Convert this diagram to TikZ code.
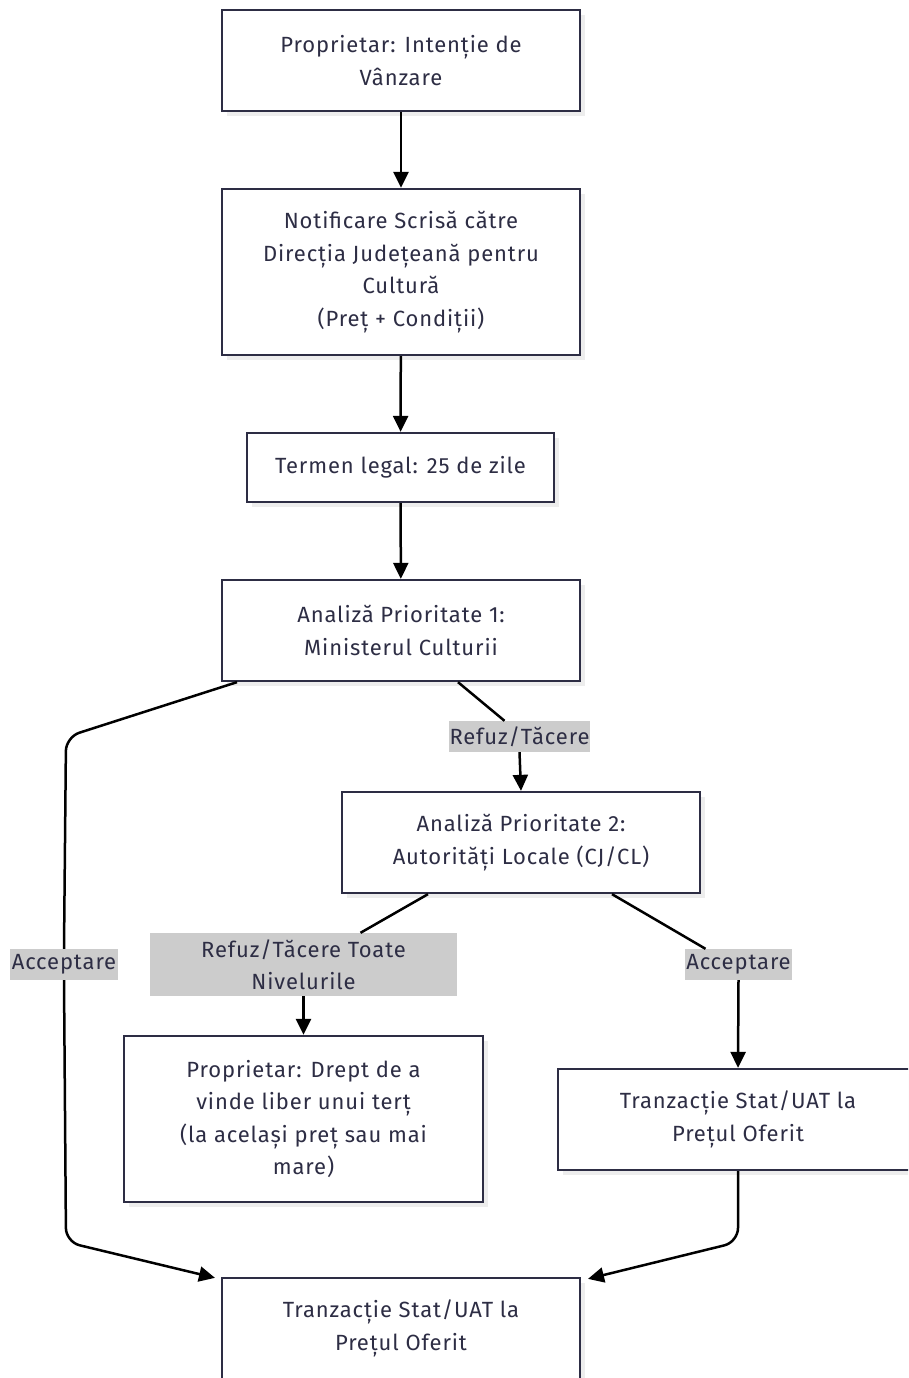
\documentclass[tikz,border=0pt]{standalone}
\usepackage{fontspec}
\setmainfont{Fira Sans}[LetterSpace=4]
\usetikzlibrary{arrows.meta,shadows}
\definecolor{ink}{HTML}{2D2D44}
\definecolor{labelbg}{HTML}{CCCCCC}
\definecolor{shade}{HTML}{EDEDED}
\begin{document}
\begin{tikzpicture}[x=1pt,y=-1pt,
  every node/.style={font=\fontsize{22}{32.5}\selectfont, text=ink, align=center},
  box/.style={draw=ink, line width=2.3pt, fill=white, inner sep=0pt,
    drop shadow={shadow xshift=5pt, shadow yshift=-5pt, fill=shade, opacity=1}},
  lbl/.style={fill=labelbg, inner sep=0pt},
  link/.style={draw=black, line width=2.5pt, rounded corners=14pt},
  tip/.style={-{Triangle[length=16pt,width=15pt]}}
]
\clip (0,0) rectangle (908,1378);
\fill[white] (0,0) rectangle (908,1378);

% process boxes
\node[box, minimum width=358pt, minimum height=101pt] (b1) at (401,60.5)
  {Proprietar: Intenție de\\Vânzare};
\node[box, minimum width=358pt, minimum height=166pt] (b2) at (401,272)
  {Notificare Scrisă către\\Direcția Județeană pentru\\Cultură\\(Preț + Condiții)};
\node[box, minimum width=307pt, minimum height=69pt] (b3) at (400.5,467.5)
  {Termen legal: 25 de zile};
\node[box, minimum width=358pt, minimum height=101pt] (b4) at (401,630.5)
  {Analiză Prioritate 1:\\Ministerul Culturii};
\node[box, minimum width=358pt, minimum height=101pt] (b5) at (521,842.5)
  {Analiză Prioritate 2:\\Autorități Locale (CJ/CL)};
\node[box, minimum width=359pt, minimum height=166pt] (b6) at (303.5,1119)
  {Proprietar: Drept de a\\vinde liber unui terț\\(la același preț sau mai\\mare)};
\node[box, minimum width=360pt, minimum height=101pt] (b7) at (738,1119.5)
  {Tranzacție Stat/UAT la\\Prețul Oferit};
\node[box, minimum width=358pt, minimum height=101pt] (b8) at (401,1328.5)
  {Tranzacție Stat/UAT la\\Prețul Oferit};

% edge labels
\node[lbl, minimum width=141pt, minimum height=31pt] (l1) at (519.5,736.5) {Refuz/Tăcere};
\node[lbl, minimum width=108pt, minimum height=31pt] (la) at (64,964.5) {Acceptare};
\node[lbl, minimum width=307pt, minimum height=63pt] (l3) at (303.5,964.5) {Refuz/Tăcere Toate\\Nivelurile};
\node[lbl, minimum width=107pt, minimum height=31pt] (l4) at (738.5,964.5) {Acceptare};

% corner points of the routed connectors
\coordinate (la1) at (66,737);
\coordinate (la2) at (66,1242);
\coordinate (ra1) at (738,1242);

% connectors
\draw[link, tip] (b1) -- (b2);
\draw[link, tip] (b2) -- (b3);
\draw[link, tip] (b3) -- (b4);

\draw[link] ([xshift=57pt]b4.south) -- ([xshift=-15pt]l1.north);
\draw[link, tip] (l1.south) -- (b5.north);

\draw[link] ([xshift=-164pt]b4.south) -- (la1) -- (la.north);
\draw[link, tip] (la.south) -- (la2) -- ([xshift=-186pt,yshift=-1pt]b8.north);

\draw[link] ([xshift=-93pt]b5.south) -- ([xshift=57pt]l3.north);
\draw[link, tip] (l3.south) -- (b6.north);

\draw[link] ([xshift=91pt]b5.south) -- ([xshift=-33pt]l4.north);
\draw[link, tip] (l4.south) -- (b7.north);

\draw[link, tip] (b7.south) -- (ra1) -- ([xshift=187pt,yshift=-2pt]b8.north);
\end{tikzpicture}
\end{document}
